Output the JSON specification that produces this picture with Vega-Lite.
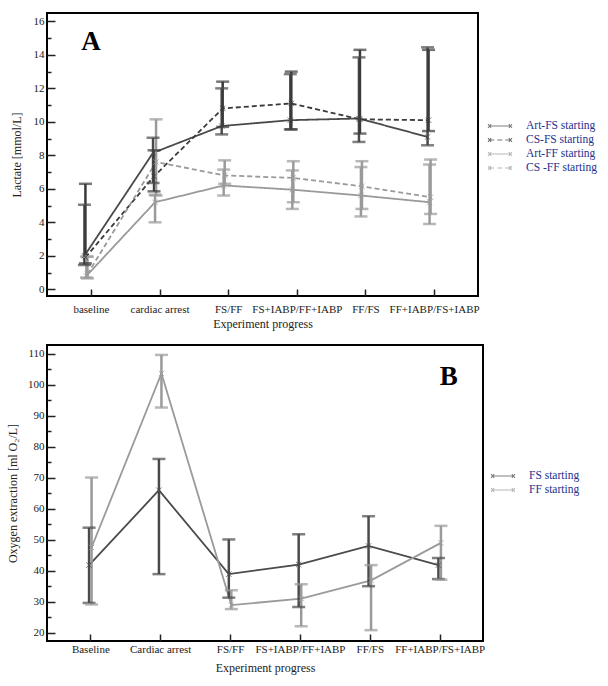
{
  "$schema": "https://vega.github.io/schema/vega-lite/v6.json",
  "padding": {"left": 5, "top": 12, "right": 5, "bottom": 5},
  "background": "white",
  "datasets": {
    "lactate": [
      {"stage": "baseline", "series": "Art-FS starting", "m": 2.0, "lo": 1.45, "hi": 5.05},
      {"stage": "baseline", "series": "CS-FS starting", "m": 1.9, "lo": 1.55, "hi": 6.3},
      {"stage": "baseline", "series": "Art-FF starting", "m": 0.8, "lo": 0.7, "hi": 1.95},
      {"stage": "baseline", "series": "CS -FF starting", "m": 0.9, "lo": 0.65, "hi": 1.95},
      {"stage": "cardiac  arrest", "series": "Art-FS starting", "m": 8.15, "lo": 6.35, "hi": 9.05},
      {"stage": "cardiac  arrest", "series": "CS-FS starting", "m": 6.75, "lo": 5.85, "hi": 8.3},
      {"stage": "cardiac  arrest", "series": "Art-FF starting", "m": 5.2, "lo": 4.0, "hi": 5.65},
      {"stage": "cardiac  arrest", "series": "CS -FF starting", "m": 7.6, "lo": 5.6, "hi": 10.15},
      {"stage": "FS/FF", "series": "Art-FS starting", "m": 9.75, "lo": 9.25, "hi": 12.0},
      {"stage": "FS/FF", "series": "CS-FS starting", "m": 10.8, "lo": 9.7, "hi": 12.4},
      {"stage": "FS/FF", "series": "Art-FF starting", "m": 6.2, "lo": 5.6, "hi": 7.15},
      {"stage": "FS/FF", "series": "CS -FF starting", "m": 6.8, "lo": 6.3, "hi": 7.7},
      {"stage": "FS+IABP/FF+IABP", "series": "Art-FS starting", "m": 10.1, "lo": 9.55, "hi": 12.85},
      {"stage": "FS+IABP/FF+IABP", "series": "CS-FS starting", "m": 11.1, "lo": 9.55, "hi": 13.0},
      {"stage": "FS+IABP/FF+IABP", "series": "Art-FF starting", "m": 5.95, "lo": 4.8, "hi": 7.1},
      {"stage": "FS+IABP/FF+IABP", "series": "CS -FF starting", "m": 6.65, "lo": 5.2, "hi": 7.65},
      {"stage": "FF/FS", "series": "Art-FS starting", "m": 10.2, "lo": 8.8, "hi": 13.85},
      {"stage": "FF/FS", "series": "CS-FS starting", "m": 10.15, "lo": 9.3, "hi": 14.3},
      {"stage": "FF/FS", "series": "Art-FF starting", "m": 5.6, "lo": 4.35, "hi": 7.3},
      {"stage": "FF/FS", "series": "CS -FF starting", "m": 6.15, "lo": 4.8, "hi": 7.65},
      {"stage": "FF+IABP/FS+IABP", "series": "Art-FS starting", "m": 9.1, "lo": 8.6, "hi": 14.45},
      {"stage": "FF+IABP/FS+IABP", "series": "CS-FS starting", "m": 10.1, "lo": 9.45, "hi": 14.3},
      {"stage": "FF+IABP/FS+IABP", "series": "Art-FF starting", "m": 5.2, "lo": 3.9, "hi": 7.45},
      {"stage": "FF+IABP/FS+IABP", "series": "CS -FF starting", "m": 5.5, "lo": 4.5, "hi": 7.75}
    ],
    "oxygen": [
      {"stage": "Baseline", "series": "FS starting", "m": 41.8, "lo": 29.6, "hi": 53.9},
      {"stage": "Baseline", "series": "FF starting", "m": 47.5, "lo": 29.1, "hi": 70.1},
      {"stage": "Cardiac arrest", "series": "FS starting", "m": 66.0, "lo": 38.9, "hi": 76.1},
      {"stage": "Cardiac arrest", "series": "FF starting", "m": 103.7, "lo": 92.7, "hi": 109.7},
      {"stage": "FS/FF", "series": "FS starting", "m": 38.9, "lo": 31.3, "hi": 50.1},
      {"stage": "FS/FF", "series": "FF starting", "m": 28.9, "lo": 27.6, "hi": 33.7},
      {"stage": "FS+IABP/FF+IABP", "series": "FS starting", "m": 42.0, "lo": 28.3, "hi": 51.8},
      {"stage": "FS+IABP/FF+IABP", "series": "FF starting", "m": 31.0, "lo": 22.1, "hi": 35.6},
      {"stage": "FF/FS", "series": "FS starting", "m": 48.0, "lo": 35.0, "hi": 57.6},
      {"stage": "FF/FS", "series": "FF starting", "m": 36.9, "lo": 20.8, "hi": 41.8},
      {"stage": "FF+IABP/FS+IABP", "series": "FS starting", "m": 41.8, "lo": 37.3, "hi": 44.1},
      {"stage": "FF+IABP/FS+IABP", "series": "FF starting", "m": 49.0, "lo": 37.1, "hi": 54.5}
    ],
    "labelA": [{"stage": "baseline", "v": 14.75, "t": "A"}],
    "labelB": [{"stage": "FF+IABP/FS+IABP", "v": 102.5, "t": "B"}]
  },
  "spacing": 14,
  "resolve": {"scale": {"x": "independent", "y": "independent", "xOffset": "independent", "color": "independent", "strokeDash": "independent"}},
  "vconcat": [
    {
      "width": 431,
      "height": 283,
      "encoding": {
        "x": {"field": "stage", "type": "ordinal",
              "scale": {"type": "point", "padding": 0.64, "domain": ["baseline", "cardiac  arrest", "FS/FF", "FS+IABP/FF+IABP", "FF/FS", "FF+IABP/FS+IABP"]},
              "axis": {"title": "Experiment progress", "labelAngle": 0, "labelOverlap": false, "tickSize": -7, "labelPadding": 14, "titlePadding": 4}},
        "xOffset": {"field": "series", "type": "nominal", "scale": {"domain": ["Art-FS starting", "CS-FS starting", "Art-FF starting", "CS -FF starting"], "range": [-7, -3, 2, 6]}},
        "color": {"field": "series", "type": "nominal", "scale": {"domain": ["Art-FS starting", "CS-FS starting", "Art-FF starting", "CS -FF starting"], "range": ["#4a4a4a", "#3a3a3a", "#9a9a9a", "#9a9a9a"]},
                  "legend": {"title": null, "orient": "none", "legendX": 446, "legendY": 106, "labelFont": "Liberation Serif", "labelFontSize": 11.5, "labelColor": "#25318f", "rowPadding": 1, "symbolType": "M-1.75,0H1.75M-1.95,-0.3L-1.45,0.3M-1.95,0.3L-1.45,-0.3M1.45,-0.3L1.95,0.3M1.45,0.3L1.95,-0.3", "symbolSize": 150, "symbolStrokeWidth": 1.1, "labelOffset": 19}}
      },
      "layer": [
        {
          "data": {"name": "lactate"},
          "mark": {"type": "line", "strokeWidth": 1.8},
          "encoding": {
            "y": {"field": "m", "type": "quantitative", "scale": {"domain": [-0.4, 16.5], "nice": false, "zero": false},
                  "axis": {"title": "Lactate [mmol/L]", "values": [0,1,2,3,4,5,6,7,8,9,10,11,12,13,14,15,16], "tickCount": 100, "format": "d", "labelOverlap": false, "labelExpr": "datum.value % 2 === 0 ? datum.label : ''", "tickSize": {"condition": {"test": "datum.value % 2 === 0", "value": -8}, "value": -4}, "labelPadding": 11, "titlePadding": 10}},
            "strokeDash": {"field": "series", "type": "nominal", "scale": {"domain": ["Art-FS starting", "CS-FS starting", "Art-FF starting", "CS -FF starting"], "range": [[1, 0], [5, 3], [1, 0], [5, 3]]},
                      "legend": {"title": null, "orient": "none", "legendX": 446, "legendY": 106, "labelFont": "Liberation Serif", "labelFontSize": 11.5, "labelColor": "#25318f", "rowPadding": 1, "symbolType": "M-1.75,0H1.75M-1.95,-0.3L-1.45,0.3M-1.95,0.3L-1.45,-0.3M1.45,-0.3L1.95,0.3M1.45,0.3L1.95,-0.3", "symbolSize": 150, "symbolStrokeWidth": 1.1, "labelOffset": 19}}
          }
        },
        {
          "data": {"name": "lactate"},
          "mark": {"type": "rule", "strokeWidth": 2.5},
          "encoding": {"y": {"field": "lo", "type": "quantitative"}, "y2": {"field": "hi"}}
        },
        {
          "data": {"name": "lactate"},
          "mark": {"type": "tick", "orient": "horizontal", "size": 13, "thickness": 2.5},
          "encoding": {"y": {"field": "lo", "type": "quantitative"}}
        },
        {
          "data": {"name": "lactate"},
          "mark": {"type": "tick", "orient": "horizontal", "size": 13, "thickness": 2.5},
          "encoding": {"y": {"field": "hi", "type": "quantitative"}}
        },
        {
          "data": {"name": "lactate"},
          "mark": {"type": "point", "shape": "M-1,-1L1,1M-1,1L1,-1", "size": 30, "filled": false, "strokeWidth": 1},
          "encoding": {"y": {"field": "m", "type": "quantitative"}}
        },
        {
          "data": {"name": "labelA"},
          "mark": {"type": "text", "fontSize": 27, "fontWeight": "bold", "font": "Liberation Serif", "color": "black"},
          "encoding": {"x": {"field": "stage", "type": "ordinal"}, "xOffset": {"value": 0}, "color": {"value": "black"}, "y": {"field": "v", "type": "quantitative"}, "text": {"field": "t"}}
        }
      ]
    },
    {
      "width": 436,
      "height": 296,
      "encoding": {
        "x": {"field": "stage", "type": "ordinal",
              "scale": {"type": "point", "padding": 0.62, "domain": ["Baseline", "Cardiac arrest", "FS/FF", "FS+IABP/FF+IABP", "FF/FS", "FF+IABP/FS+IABP"]},
              "axis": {"title": "Experiment progress", "labelAngle": 0, "labelOverlap": false, "tickSize": -7, "labelPadding": 9, "titlePadding": 8}},
        "xOffset": {"field": "series", "type": "nominal", "scale": {"domain": ["FS starting", "FF starting"], "range": [-2.5, 2.5]}},
        "color": {"field": "series", "type": "nominal", "scale": {"domain": ["FS starting", "FF starting"], "range": ["#4a4a4a", "#9a9a9a"]},
                  "legend": {"title": null, "orient": "none", "legendX": 449, "legendY": 124, "labelFont": "Liberation Serif", "labelFontSize": 11.5, "labelColor": "#25318f", "rowPadding": 1, "symbolType": "M-1.75,0H1.75M-1.95,-0.3L-1.45,0.3M-1.95,0.3L-1.45,-0.3M1.45,-0.3L1.95,0.3M1.45,0.3L1.95,-0.3", "symbolSize": 150, "symbolStrokeWidth": 1.1, "labelOffset": 19}}
      },
      "layer": [
        {
          "data": {"name": "oxygen"},
          "mark": {"type": "line", "strokeWidth": 1.8},
          "encoding": {
            "y": {"field": "m", "type": "quantitative", "scale": {"domain": [17.3, 112.9], "nice": false, "zero": false},
                  "axis": {"title": "Oxygen extraction [ml O₂/L]", "values": [20,25,30,35,40,45,50,55,60,65,70,75,80,85,90,95,100,105,110], "tickCount": 100, "format": "d", "labelOverlap": false, "labelExpr": "datum.value % 10 === 0 ? datum.label : ''", "tickSize": {"condition": {"test": "datum.value % 10 === 0", "value": -8}, "value": -4}, "labelPadding": 11, "titlePadding": 8}}
          }
        },
        {
          "data": {"name": "oxygen"},
          "mark": {"type": "rule", "strokeWidth": 2.5},
          "encoding": {"y": {"field": "lo", "type": "quantitative"}, "y2": {"field": "hi"}}
        },
        {
          "data": {"name": "oxygen"},
          "mark": {"type": "tick", "orient": "horizontal", "size": 13, "thickness": 2.5},
          "encoding": {"y": {"field": "lo", "type": "quantitative"}}
        },
        {
          "data": {"name": "oxygen"},
          "mark": {"type": "tick", "orient": "horizontal", "size": 13, "thickness": 2.5},
          "encoding": {"y": {"field": "hi", "type": "quantitative"}}
        },
        {
          "data": {"name": "oxygen"},
          "mark": {"type": "point", "shape": "M-1,-1L1,1M-1,1L1,-1", "size": 30, "filled": false, "strokeWidth": 1},
          "encoding": {"y": {"field": "m", "type": "quantitative"}}
        },
        {
          "data": {"name": "labelB"},
          "mark": {"type": "text", "fontSize": 27, "fontWeight": "bold", "font": "Liberation Serif", "color": "black", "dx": 9},
          "encoding": {"x": {"field": "stage", "type": "ordinal"}, "xOffset": {"value": 0}, "color": {"value": "black"}, "y": {"field": "v", "type": "quantitative"}, "text": {"field": "t"}}
        }
      ]
    }
  ],
  "config": {
    "font": "Liberation Serif",
    "view": {"stroke": "black", "strokeWidth": 2},
    "axis": {"domain": false, "grid": false, "labelOverlap": false, "labelFont": "Liberation Serif", "labelFontSize": 11, "labelColor": "#222222", "titleFont": "Liberation Serif", "titleFontSize": 12, "titleFontWeight": "normal", "titleColor": "#222222", "tickColor": "#222222", "tickWidth": 1.5},
    "legend": {"labelFont": "Liberation Serif"}
  }
}
